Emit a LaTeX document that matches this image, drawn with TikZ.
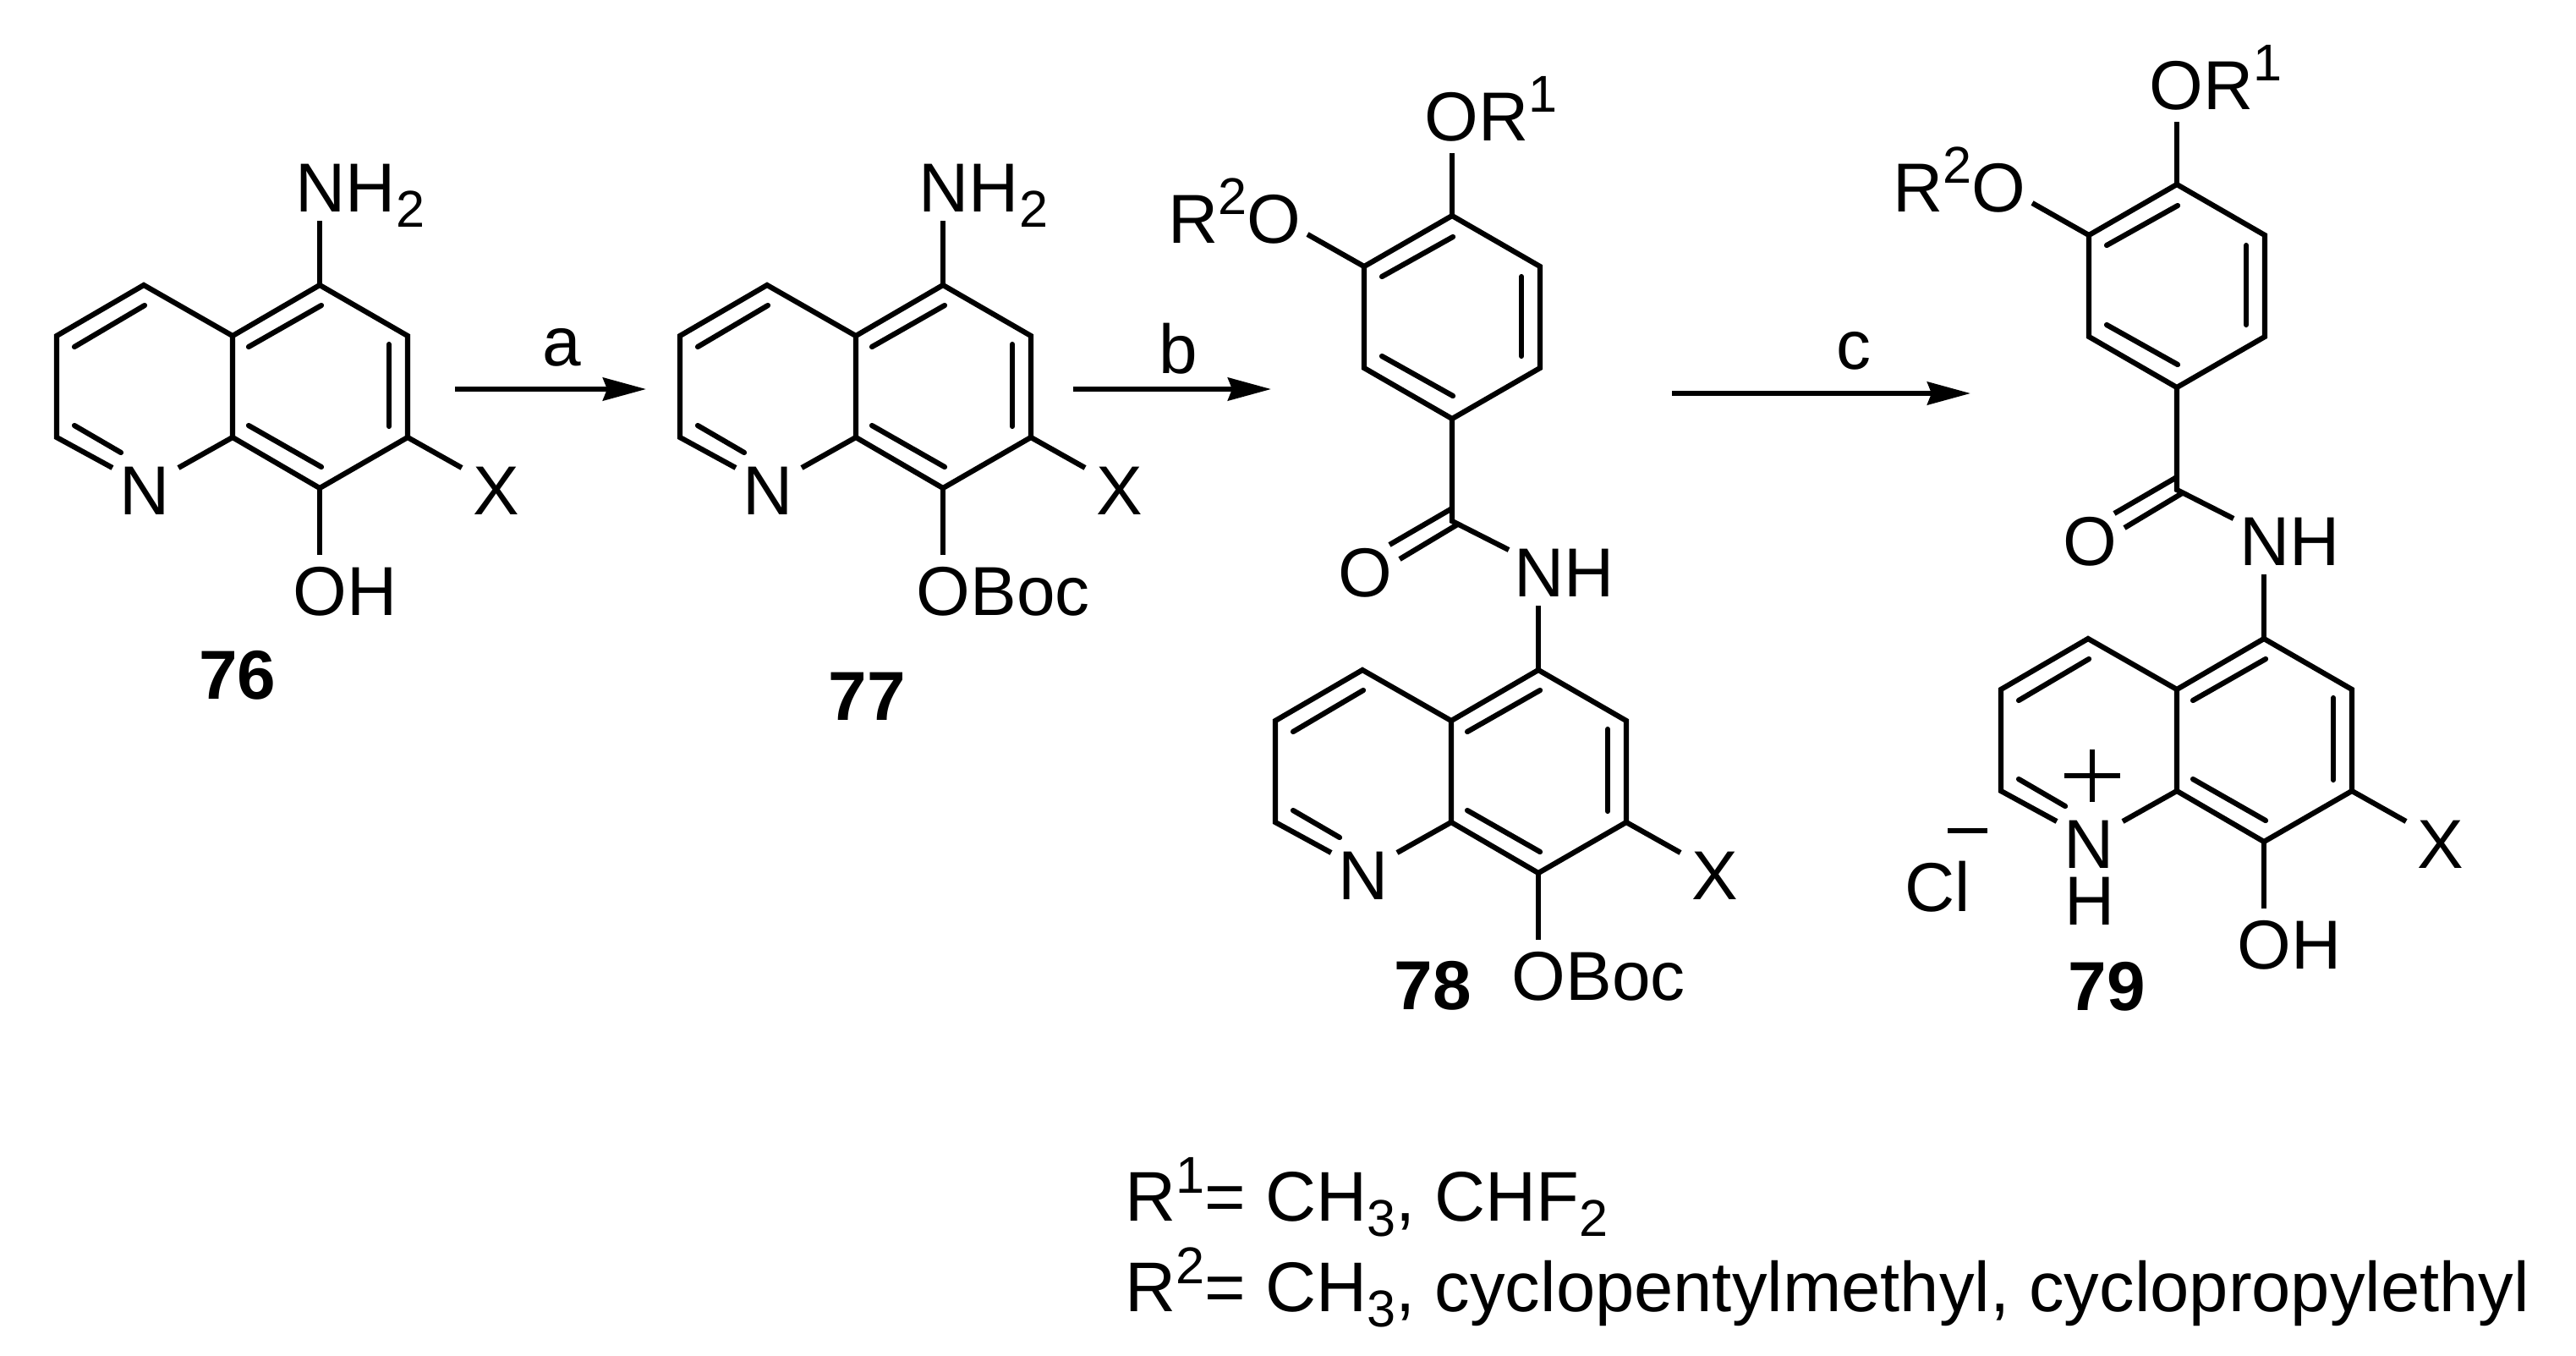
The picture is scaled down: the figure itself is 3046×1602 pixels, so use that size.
\documentclass[tikz,border=0pt]{standalone}
\usepackage{fontspec}
\setmainfont{Liberation Sans}
\usetikzlibrary{arrows.meta}
\newcommand{\atomsup}[1]{\raisebox{0.33cm}{\fontsize{17.4}{20}\selectfont #1}}
\newcommand{\atomsub}[1]{\raisebox{-0.18cm}{\fontsize{17.4}{20}\selectfont #1}}

% name, shift x, shift y, label on C5, label on C8
\newcommand{\quinoline}[5]{
\begin{scope}[shift={(#2,#3)}]
	\coordinate (#1c5) at (378,337);
	\coordinate (#1c4a) at (275,397);
	\coordinate (#1c8a) at (275,517);
	\coordinate (#1c8) at (378,577);
	\coordinate (#1c7) at (482,517);
	\coordinate (#1c6) at (482,397);
	\coordinate (#1c4) at (170,337);
	\coordinate (#1c3) at (67,397);
	\coordinate (#1c2) at (67,517);
	\coordinate (#1endn) at (211,553);
	\coordinate (#1endc) at (133,553);
	\coordinate (#1endx) at (546,553);
	\coordinate (#1endtop) at (378,261);
	\coordinate (#1endlow) at (378,656);
	\draw [bond] (#1endc) -- (#1c2) -- (#1c3) -- (#1c4) -- (#1c4a) -- (#1c5) -- (#1c6) -- (#1c7) -- (#1c8) -- (#1c8a) -- (#1c4a);
	\draw [bond] (#1c8a) -- (#1endn);
	\draw [bond] (#1c7) -- (#1endx);
	\draw [bond] (#1c5) -- (#1endtop);
	\draw [bond] (#1c8) -- (#1endlow);
	\draw [inner] (171,361) -- (88,410);
	\draw [inner] (380,361) -- (294,410);
	\draw [inner] (460,407) -- (460,504);
	\draw [inner] (294,503) -- (380,552);
	\draw [inner] (88,503) -- (143,535);
	\node [atom] (#1n) at (171,608) {N};
	\node [atom] (#1x) at (587,608) {X};
	\node [atomleft] (#1top) at (349,250) {#4};
	\node [atomleft] (#1low) at (346,727) {#5};
\end{scope}
}

% name, shift x, shift y
\newcommand{\benzoyl}[3]{
\begin{scope}[shift={(#2,#3)}]
	\coordinate (#1t4) at (1717,255);
	\coordinate (#1t3) at (1613,315);
	\coordinate (#1t2) at (1613,435);
	\coordinate (#1t1) at (1717,495);
	\coordinate (#1t6) at (1821,435);
	\coordinate (#1t5) at (1821,315);
	\coordinate (#1co) at (1717,616);
	\coordinate (#1endra) at (1717,181);
	\coordinate (#1endrb) at (1546,277);
	\coordinate (#1endnh) at (1784,650);
	\draw [bond] (#1t4) -- (#1t3) -- (#1t2) -- (#1t1) -- (#1t6) -- (#1t5) -- cycle;
	\draw [bond] (#1t4) -- (#1endra);
	\draw [bond] (#1t3) -- (#1endrb);
	\draw [bond] (#1t1) -- (#1co) -- (#1endnh);
	\draw [inner] (1718,280) -- (1634,327);
	\draw [inner] (1634,421) -- (1718,468);
	\draw [inner] (1799,327) -- (1799,421);
	\draw [bond] (1717,601) -- (1643,644);
	\draw [bond] (1725,619) -- (1655,661);
	\node [atomleft] (#1ra) at (1684,166) {OR\atomsup{1}};
	\node [atomleft] (#1rb) at (1381,287) {R\atomsup{2}O};
	\node [atom] (#1o) at (1614,705) {O};
\end{scope}
}

\begin{document}
\begin{tikzpicture}[x=0.01cm, y=-0.01cm]
	\tikzstyle{every node} =[font=\fontsize{23.3}{28}\selectfont, inner sep=0];
	\tikzstyle{bond} =[line width=0.062cm, line join=miter];
	\tikzstyle{inner} =[line width=0.062cm, line cap=round];
	\tikzstyle{atom} =[anchor=base];
	\tikzstyle{atomleft} =[anchor=base west];
	\tikzstyle{numlabel} =[anchor=base, font=\fontsize{23.3}{28}\selectfont\bfseries];
	\tikzstyle{legend} =[anchor=base west, font=\fontsize{23.65}{28}\selectfont];
	\tikzstyle{step arrow} =[line width=0.058cm, -{Stealth[length=0.51cm, width=0.27cm, inset=0.05cm]}];
	\useasboundingbox (0,0) rectangle (3046,1602);

	% 76 and 77
	\quinoline{a}{0}{0}{NH\atomsub{2}}{OH}
	\quinoline{b}{737}{0}{NH\atomsub{2}}{OBoc}
	\node [numlabel] (numa) at (281,826) {76};
	\node [numlabel] (numb) at (1025,851) {77};

	% 78
	\benzoyl{c}{0}{0}
	\quinoline{c}{1441}{455}{NH}{OBoc}
	\node [numlabel] (numc) at (1694,1193) {78};

	% 79
	\benzoyl{d}{857}{-37}
	\quinoline{d}{2299}{418}{NH}{OH}
	\node [atom] (dh) at (2471,1093) {H};
	\node [atom] (dcl) at (2291,1077) {Cl};
	\node [numlabel] (numd) at (2491,1194) {79};
	\draw [bond] (2441,917) -- (2507,917);
	\draw [bond] (2474,886) -- (2474,948);
	\draw [bond] (2303,982) -- (2350,982);

	% arrows
	\coordinate (arra) at (538,460);
	\coordinate (arrb) at (764,460);
	\coordinate (brra) at (1269,460);
	\coordinate (brrb) at (1503,460);
	\coordinate (crra) at (1977,465);
	\coordinate (crrb) at (2330,465);
	\draw [step arrow] (arra) -- (arrb);
	\draw [step arrow] (brra) -- (brrb);
	\draw [step arrow] (crra) -- (crrb);
	\node [atom] (laba) at (664,432) {a};
	\node [atom] (labb) at (1393,441) {b};
	\node [atom] (labc) at (2192,436) {c};

	\node [legend] (rone) at (1330,1443) {R\atomsup{1}= CH\atomsub{3}, CHF\atomsub{2}};
	\node [legend] (rtwo) at (1330,1550) {R\atomsup{2}= CH\atomsub{3}, cyclopentylmethyl, cyclopropylethyl};
\end{tikzpicture}
\end{document}
